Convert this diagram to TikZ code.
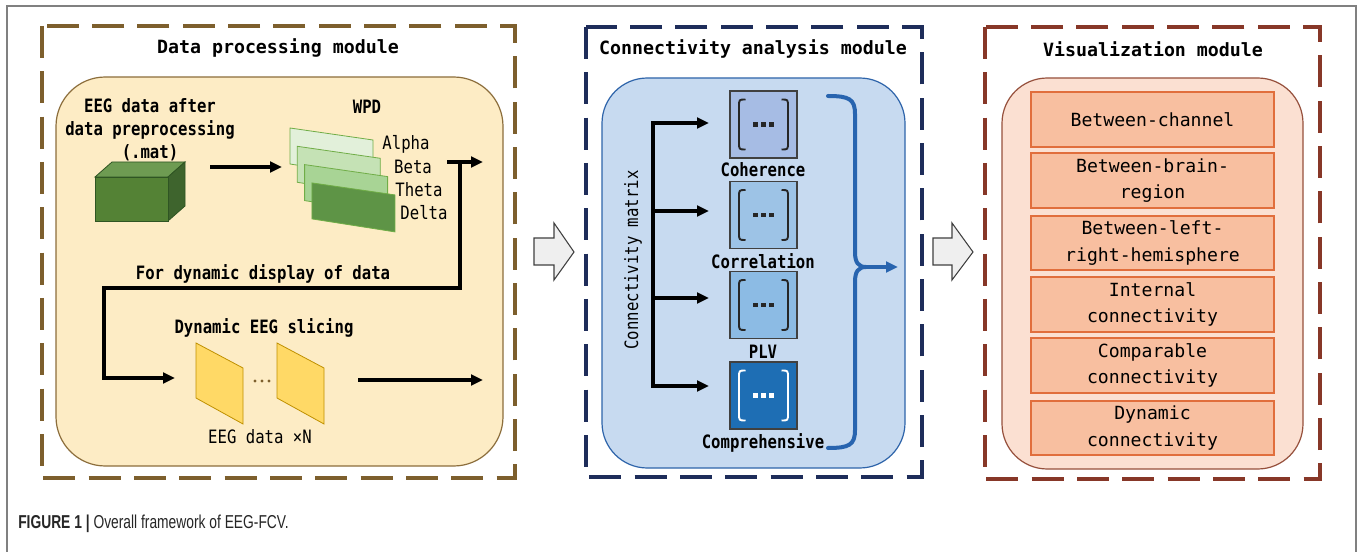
\documentclass[tikz,border=0pt]{standalone}
\usepackage{fontspec}
\usetikzlibrary{arrows.meta}
\newfontfamily\labfont[FakeStretch=0.85]{DejaVu Sans Mono}
\newfontfamily\cellfont{DejaVu Sans Mono}
\newfontfamily\capfont[FakeStretch=0.74]{Liberation Sans}

\definecolor{modA}{RGB}{125,95,45}
\definecolor{modB}{RGB}{30,45,90}
\definecolor{modC}{RGB}{135,55,40}
\definecolor{fillA}{RGB}{253,236,197}
\definecolor{edgeA}{RGB}{140,110,60}
\definecolor{fillB}{RGB}{199,218,240}
\definecolor{edgeB}{RGB}{46,100,170}
\definecolor{fillC}{RGB}{251,224,210}
\definecolor{edgeC}{RGB}{150,80,60}
\definecolor{visfill}{RGB}{248,191,160}
\definecolor{visedge}{RGB}{225,110,60}
\definecolor{matA}{RGB}{166,188,228}
\definecolor{matB}{RGB}{157,195,230}
\definecolor{matC}{RGB}{140,187,228}
\definecolor{matD}{RGB}{30,110,180}
\definecolor{braceblue}{RGB}{40,100,175}
\definecolor{cubeF}{RGB}{84,130,53}
\definecolor{cubeT}{RGB}{110,155,82}
\definecolor{cubeR}{RGB}{62,100,45}
\definecolor{cubeE}{RGB}{47,85,35}
\definecolor{sheetA}{RGB}{226,240,218}
\definecolor{sheetB}{RGB}{197,226,181}
\definecolor{sheetC}{RGB}{168,212,149}
\definecolor{sheetD}{RGB}{94,148,70}
\definecolor{sheetE}{RGB}{112,173,71}
\definecolor{slicefill}{RGB}{255,217,102}
\definecolor{sliceedge}{RGB}{191,144,0}
\definecolor{blockfill}{RGB}{239,239,239}

\tikzset{
  titletext/.style={font={\cellfont\bfseries\fontsize{13.7pt}{16pt}\selectfont}, inner sep=0pt},
  boldlab/.style={font={\labfont\bfseries\fontsize{13.8pt}{17.25pt}\selectfont}, inner sep=0pt, align=center},
  plainlab/.style={font={\labfont\fontsize{13.8pt}{17.25pt}\selectfont}, inner sep=0pt, align=center},
  frameA/.style={draw=modA, line width=3pt, dash pattern=on 24pt off 10pt},
  frameB/.style={draw=modB, line width=3pt, dash pattern=on 24pt off 10pt},
  frameC/.style={draw=modC, line width=3pt, dash pattern=on 24pt off 10pt},
  flow/.style={line width=2.4pt, -{Triangle[length=9pt,width=8pt]}, line join=miter},
  matbox/.style={draw={black!75}, line width=1.2pt, minimum width=50.25pt, minimum height=50.25pt, inner sep=0pt},
  visbox/.style={draw=visedge, fill=visfill, line width=1.6pt, minimum width=182pt, minimum height=41pt,
    inner sep=0pt, align=center, font={\cellfont\fontsize{13.6pt}{20pt}\selectfont}},
  bracestroke/.style={draw=braceblue, line width=3pt, line cap=round},
  blockarrow/.style={draw={black!75}, fill=blockfill, line width=0.8pt},
  sheet/.style={draw=sheetE, line width=0.6pt},
  slice/.style={draw=sliceedge, fill=slicefill, line width=0.6pt}
}

% brackets and dots inside a matrix square
\newcommand\matrixglyph[2]{%
  \begin{scope}[shift={(#1.center)}]
    \draw[#2, line width=1.4pt]
      (-18,-25) .. controls (-24.5,-25) and (-24.5,-25) .. (-24.5,-18) -- (-24.5,18)
      .. controls (-24.5,25) and (-24.5,25) .. (-18,25);
    \draw[#2, line width=1.4pt]
      (18,-25) .. controls (24.5,-25) and (24.5,-25) .. (24.5,-18) -- (24.5,18)
      .. controls (24.5,25) and (24.5,25) .. (18,25);
    \foreach \dx in {-8,0,8} \fill[#2] (\dx-2.2,-2.2) rectangle (\dx+2.2,2.2);
  \end{scope}}

\begin{document}
\begin{tikzpicture}[x=0.75pt, y=-0.75pt]
\useasboundingbox (0,0) rectangle (1360,552);
\fill[white] (0,0) rectangle (1360,552);

% outer frame
\draw[draw={black!50}, line width=0.9pt] (7,552) -- (7,6) -- (1356,6) -- (1356,552);

% ---------- data processing module ----------
\draw[frameA] (42,26) rectangle (515,478);
\node[titletext] (tA) at (278,48) {Data processing module};
\draw[draw=edgeA, fill=fillA, line width=0.9pt, rounded corners=37pt] (56,77) rectangle (503,466);

\node[boldlab] (raw) at (150,130) {EEG data after\\data preprocessing\\(.mat)};

% EEG cuboid
\draw[draw=cubeE, line width=0.6pt, fill=cubeT] (95,177) -- (112,162) -- (185,162) -- (168,177) -- cycle;
\draw[draw=cubeE, line width=0.6pt, fill=cubeR] (168,177) -- (185,162) -- (185,206) -- (168,221) -- cycle;
\draw[draw=cubeE, line width=0.6pt, fill=cubeF] (95,177) rectangle (168,221);

\coordinate (cubeout) at (210,167);
\coordinate (wpdin) at (282,167);
\draw[flow] (cubeout) -- (wpdin);

% wavelet packet sub-bands
\node[boldlab] (wpd) at (367,107) {WPD};
\foreach \i/\c in {0/sheetA,1/sheetB,2/sheetC,3/sheetD}{
  \draw[sheet, fill=\c] ({290+7.3*\i},{128+18.3*\i}) -- ++(83,12) -- ++(0,37) -- ++(-83,-13) -- cycle;
}
\node[plainlab] (alpha) at (406,144) {Alpha};
\node[plainlab] (beta) at (413,167) {Beta};
\node[plainlab] (theta) at (419,190) {Theta};
\node[plainlab] (delta) at (424,213) {Delta};

\coordinate (wpdout) at (447,162);
\coordinate (wpdend) at (483,162);
\coordinate (fork) at (460,162);
\coordinate (slicein) at (175,378);
\draw[flow] (wpdout) -- (wpdend);
\draw[flow] (fork) -- (460,288) -- (104,288) -- (104,378) -- (slicein);
\node[boldlab] (dyn) at (263,274) {For dynamic display of data};

% dynamic slices
\node[boldlab] (slicing) at (264,328) {Dynamic EEG slicing};
\draw[slice] (196,343) -- ++(47,25) -- ++(0,56) -- ++(-47,-26) -- cycle;
\draw[slice] (277,343) -- ++(47,25) -- ++(0,56) -- ++(-47,-26) -- cycle;
\foreach \dx in {-7,0,7} \fill[modA] (262+\dx,381) circle (1.7);
\node[plainlab] (slicen) at (260,437) {EEG data ×N};
\coordinate (sliceout) at (358,380);
\coordinate (sliceend) at (483,380);
\draw[flow] (sliceout) -- (sliceend);

% block arrows between modules
\draw[blockarrow] (534,238) -- (554,238) -- (554,223) -- (574,252) -- (554,280) -- (554,265) -- (534,265) -- cycle;
\draw[blockarrow] (933,238) -- (952,238) -- (952,223) -- (973,252) -- (952,280) -- (952,265) -- (933,265) -- cycle;

% ---------- connectivity analysis module ----------
\draw[frameB] (586,27) rectangle (922,477);
\node[titletext] (tB) at (753,49) {Connectivity analysis module};
\draw[draw=edgeB, fill=fillB, line width=0.9pt, rounded corners=34pt] (602,78) rectangle (905,468);

\node[plainlab, rotate=90] (cm) at (633,260) {Connectivity matrix};

\coordinate (tmid) at (653,254);
\coordinate (in1) at (709,123);
\coordinate (in2) at (709,211);
\coordinate (in3) at (709,298);
\coordinate (in4) at (709,386);
\draw[flow] (tmid) -- (653,123) -- (in1);
\draw[flow] (tmid) -- (653,386) -- (in4);
\draw[flow] (653,211) -- (in2);
\draw[flow] (653,298) -- (in3);

\node[matbox, fill=matA] (coh) at (763.5,124.5) {};
\node[matbox, fill=matB] (cor) at (763.5,215) {};
\node[matbox, fill=matC] (plv) at (763.5,305) {};
\node[matbox, fill=matD] (com) at (763.5,395.5) {};
\matrixglyph{coh}{black!85}
\matrixglyph{cor}{black!85}
\matrixglyph{plv}{black!85}
\matrixglyph{com}{white}

\node[boldlab] (cohl) at (763,170) {Coherence};
\node[boldlab] (corl) at (763,261) {Correlation};
\node[boldlab] (plvl) at (763,352) {PLV};
\node[boldlab] (coml) at (763,443) {Comprehensive};

% collecting brace
\coordinate (bracetop) at (828,96);
\coordinate (bracebot) at (828,448);
\coordinate (cusp) at (866,267);
\coordinate (braceend) at (898,267);
\draw[bracestroke] (bracetop) .. controls (849,96) and (855,99) .. (855,114) -- (855,252)
  .. controls (855,262) and (858,267) .. (cusp);
\draw[bracestroke] (bracebot) .. controls (849,448) and (855,445) .. (855,430) -- (855,282)
  .. controls (855,272) and (858,267) .. (cusp);
\draw[draw=braceblue, line width=3pt, -{Triangle[length=9pt,width=8pt]}] (cusp) -- (braceend);

% ---------- visualization module ----------
\draw[frameC] (985,27) rectangle (1320,479);
\node[titletext] (tC) at (1153,49) {Visualization module};
\draw[draw=edgeC, fill=fillC, line width=0.9pt, rounded corners=34pt] (1002,78) rectangle (1303,469);

\node[visbox] (v1) at (1152.5,119.5) {Between-channel};
\node[visbox] (v2) at (1152.5,180.5) {Between-brain-\\region};
\node[visbox] (v3) at (1152.5,243) {Between-left-\\right-hemisphere};
\node[visbox] (v4) at (1152.5,304.5) {Internal\\connectivity};
\node[visbox] (v5) at (1152.5,365.5) {Comparable\\connectivity};
\node[visbox] (v6) at (1152.5,428) {Dynamic\\connectivity};

% caption
\node[anchor=base west, inner sep=0pt, font={\capfont\fontsize{14pt}{16pt}\selectfont}, text=black!85] (cap)
  at (18,528) {\textbf{FIGURE 1 |} Overall framework of EEG-FCV.};
\end{tikzpicture}
\end{document}
